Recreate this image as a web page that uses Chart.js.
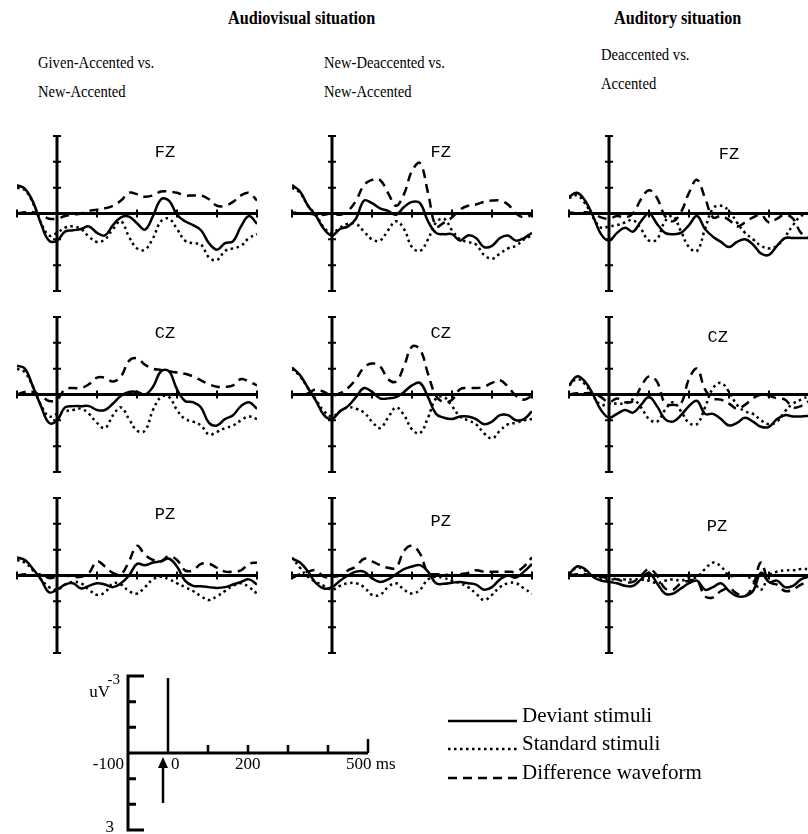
<!DOCTYPE html>
<html>
<head>
<meta charset="utf-8">
<script src="https://cdn.jsdelivr.net/npm/chart.js@4.4.1/dist/chart.umd.min.js"></script>
<style>
  html, body { margin: 0; padding: 0; background: #fff; overflow: hidden; }
  #page { position: relative; width: 808px; height: 834px; }
  .panel { position: absolute; }
  .txt { position: absolute; font-family: "Liberation Serif", serif; font-size: 17px; color: #000; white-space: nowrap; line-height: 1; transform: scaleX(0.86); transform-origin: left top; }
  .head { font-weight: bold; font-size: 18px; transform: scaleX(0.9); }
</style>
</head>
<body>
<div id="page">
  <div class="txt head" style="left:228px; top:9px;">Audiovisual situation</div>
  <div class="txt head" style="left:614px; top:9px;">Auditory situation</div>
  <div class="txt" style="left:38px; top:54px;">Given-Accented vs.</div>
  <div class="txt" style="left:38px; top:83px;">New-Accented</div>
  <div class="txt" style="left:324px; top:54px;">New-Deaccented vs.</div>
  <div class="txt" style="left:324px; top:83px;">New-Accented</div>
  <div class="txt" style="left:601px; top:46px;">Deaccented vs.</div>
  <div class="txt" style="left:601px; top:75px;">Accented</div>

  <canvas id="p11" class="panel" width="250" height="165" style="left:12px; top:131px;"></canvas>
  <canvas id="p12" class="panel" width="250" height="165" style="left:287px; top:131px;"></canvas>
  <canvas id="p13" class="panel" width="250" height="165" style="left:564px; top:131px;"></canvas>
  <canvas id="p21" class="panel" width="250" height="165" style="left:12px; top:312px;"></canvas>
  <canvas id="p22" class="panel" width="250" height="165" style="left:287px; top:312px;"></canvas>
  <canvas id="p23" class="panel" width="250" height="165" style="left:564px; top:312px;"></canvas>
  <canvas id="p31" class="panel" width="250" height="165" style="left:12px; top:493px;"></canvas>
  <canvas id="p32" class="panel" width="250" height="165" style="left:287px; top:493px;"></canvas>
  <canvas id="p33" class="panel" width="250" height="165" style="left:564px; top:493px;"></canvas>

  <canvas id="scaleBar" class="panel" width="808" height="184" style="left:0px; top:650px;"></canvas>
</div>
<script>
// time points, ms
const times = [-100, -80, -60, -40, -20, 0, 20, 40, 60, 80, 100, 120, 140, 160, 180, 200,
  220, 240, 260, 280, 300, 320, 340, 360, 380, 400, 420, 440, 460, 480, 500];
const xTicks = [-100, 0, 100, 200, 300, 400, 500];
const yTicks = [-3, -2, -1, 0, 1, 2, 3];

// uV, negative up
// Given-Accented vs. New-Accented
const givenFzDev = [-1.1, -0.95, -0.45, 0.4, 1.05, 1.05, 0.7, 0.65, 0.6, 0.5, 0.75, 0.85, 0.45, 0.15, 0.12, 0.38, 0.62, 0.1, -0.55, -0.5, 0.05, 0.3, 0.45, 0.65, 1.15, 1.4, 1.15, 1.08, 0.5, 0.1, 0.4];
const givenFzStd = [-1.0, -0.9, -0.4, 0.35, 0.85, 0.75, 0.55, 0.5, 0.6, 0.9, 1.1, 1.0, 0.6, 0.3, 0.9, 1.35, 1.4, 0.95, 0.3, 0.2, 0.6, 1.05, 1.15, 1.2, 1.7, 1.8, 1.45, 1.35, 1.25, 0.95, 0.8];
const givenFzDiff = [0.0, -0.05, -0.05, 0.05, 0.2, 0.2, 0.1, 0.05, 0.0, -0.1, -0.15, -0.2, -0.3, -0.5, -0.8, -0.75, -0.65, -0.7, -0.85, -0.85, -0.8, -0.7, -0.7, -0.7, -0.55, -0.3, -0.3, -0.45, -0.7, -0.8, -0.5];
const givenCzDev = [-1.12, -1.0, -0.3, 0.45, 1.1, 1.0, 0.5, 0.45, 0.45, 0.45, 0.6, 0.6, 0.35, 0.05, -0.1, -0.1, 0.0, -0.3, -0.9, -0.9, -0.2, 0.25, 0.3, 0.5, 1.1, 1.2, 0.95, 0.8, 0.45, 0.3, 0.55];
const givenCzStd = [-1.0, -0.85, -0.3, 0.4, 0.85, 0.75, 0.65, 0.6, 0.55, 0.75, 1.1, 1.3, 0.8, 0.5, 0.95, 1.4, 1.4, 0.6, 0.1, 0.1, 0.6, 0.95, 1.05, 1.2, 1.55, 1.45, 1.3, 1.2, 1.0, 0.85, 0.95];
const givenCzDiff = [0.0, -0.1, -0.1, 0.05, 0.25, 0.2, -0.2, -0.25, -0.25, -0.4, -0.65, -0.65, -0.5, -0.7, -1.3, -1.4, -1.15, -1.0, -0.95, -0.9, -0.85, -0.8, -0.7, -0.55, -0.4, -0.3, -0.3, -0.35, -0.6, -0.5, -0.35];
const givenPzDev = [-0.7, -0.6, -0.25, 0.15, 0.65, 0.55, 0.35, 0.3, 0.5, 0.4, 0.3, 0.35, 0.45, 0.3, 0.0, -0.45, -0.4, -0.5, -0.55, -0.65, -0.35, 0.2, 0.4, 0.42, 0.45, 0.48, 0.45, 0.35, 0.25, 0.15, 0.35];
const givenPzStd = [-0.6, -0.5, -0.2, 0.15, 0.45, 0.55, 0.35, 0.25, 0.3, 0.55, 0.75, 0.65, 0.3, 0.35, 0.6, 0.7, 0.45, 0.15, 0.05, 0.15, 0.3, 0.45, 0.6, 0.8, 0.95, 0.8, 0.6, 0.4, 0.3, 0.45, 0.7];
const givenPzDiff = [0.0, -0.05, 0.0, -0.05, 0.1, 0.05, 0.0, 0.05, 0.05, -0.1, -0.55, -0.35, -0.1, -0.05, -0.55, -1.15, -0.8, -0.6, -0.55, -0.75, -0.6, -0.2, -0.2, -0.45, -0.45, -0.3, -0.15, -0.15, -0.2, -0.45, -0.5];

// New-Deaccented vs. New-Accented
const newDeFzDev = [-1.1, -0.85, -0.3, 0.1, 0.6, 0.85, 0.6, 0.5, 0.2, -0.5, -0.4, -0.2, -0.1, 0.05, -0.25, -0.45, -0.4, 0.3, 0.75, 0.8, 0.8, 1.05, 0.85, 0.95, 1.3, 1.25, 0.95, 0.85, 1.05, 0.95, 0.75];
const newDeFzStd = [-1.0, -0.8, -0.3, 0.05, 0.55, 0.75, 0.55, 0.4, 0.4, 0.7, 1.0, 1.05, 0.65, 0.3, 0.6, 1.3, 1.45, 1.0, 0.35, 0.2, 0.65, 1.0, 1.1, 1.2, 1.6, 1.75, 1.55, 1.35, 1.25, 1.0, 0.85];
const newDeFzDiff = [-0.05, 0.0, 0.0, 0.05, 0.05, 0.0, 0.05, -0.1, -0.5, -1.1, -1.3, -1.3, -0.8, -0.3, -0.75, -1.65, -1.95, -0.8, 0.5, 0.35, 0.15, -0.15, -0.3, -0.35, -0.45, -0.5, -0.5, -0.35, 0.0, 0.15, 0.05];
const newDeCzDev = [-1.05, -0.75, -0.25, 0.25, 0.8, 0.95, 0.65, 0.45, 0.1, -0.25, -0.1, 0.15, 0.15, 0.1, -0.1, -0.35, -0.45, 0.1, 0.75, 0.9, 0.95, 0.85, 0.85, 0.95, 1.15, 1.05, 0.8, 0.8, 1.0, 0.95, 0.65];
const newDeCzStd = [-1.0, -0.7, -0.25, 0.2, 0.65, 0.85, 0.65, 0.5, 0.55, 0.7, 1.05, 1.3, 0.9, 0.5, 0.8, 1.35, 1.5, 0.9, 0.15, 0.1, 0.45, 0.85, 1.0, 1.15, 1.5, 1.7, 1.4, 1.15, 1.1, 1.0, 0.95];
const newDeCzDiff = [0.0, 0.0, -0.05, -0.2, -0.1, 0.05, -0.05, -0.25, -0.6, -1.05, -1.2, -1.1, -0.6, -0.5, -1.1, -1.85, -1.75, -0.8, 0.05, 0.3, 0.2, -0.2, -0.25, -0.25, -0.3, -0.45, -0.55, -0.3, 0.05, 0.2, 0.05];
const newDePzDev = [-0.65, -0.5, -0.15, 0.3, 0.5, 0.45, 0.2, 0.0, -0.15, -0.15, 0.1, 0.25, 0.15, -0.05, -0.25, -0.35, -0.4, -0.15, 0.3, 0.32, 0.28, 0.25, 0.3, 0.35, 0.55, 0.45, 0.15, 0.0, 0.08, -0.15, -0.45];
const newDePzStd = [-0.7, -0.3, 0.05, 0.25, 0.4, 0.55, 0.4, 0.3, 0.3, 0.45, 0.75, 0.75, 0.45, 0.3, 0.55, 0.7, 0.55, 0.15, 0.05, 0.1, 0.2, 0.3, 0.45, 0.7, 0.95, 0.75, 0.45, 0.3, 0.3, 0.5, 0.7];
const newDePzDiff = [0.1, -0.05, -0.15, -0.2, 0.05, 0.05, 0.0, -0.2, -0.35, -0.65, -0.55, -0.4, -0.3, -0.3, -0.95, -1.15, -0.85, -0.1, -0.05, -0.05, 0.0, -0.05, -0.1, -0.2, -0.15, -0.15, -0.15, -0.15, -0.15, -0.35, -0.7];

// Auditory: Deaccented vs. Accented
const audFzDev = [-0.65, -0.8, -0.5, 0.1, 0.8, 1.05, 0.75, 0.55, 0.7, 0.3, 0.0, 0.4, 0.75, 0.8, 0.75, 0.45, 0.1, 0.6, 0.9, 1.1, 1.3, 1.1, 1.0, 1.2, 1.55, 1.6, 1.25, 0.95, 0.95, 0.95, 0.95];
const audFzStd = [-0.6, -0.7, -0.4, 0.15, 0.55, 0.5, 0.45, 0.35, 0.25, 0.6, 1.05, 1.0, 0.3, 0.1, 0.7, 1.3, 1.45, 0.6, -0.2, -0.3, -0.1, 0.35, 0.75, 1.0, 1.25, 1.35, 1.25, 0.9, 0.45, 0.1, 0.0];
const audFzDiff = [-0.05, 0.0, -0.05, 0.0, 0.15, 0.2, 0.1, 0.15, 0.0, -0.55, -0.9, -0.6, 0.1, 0.3, -0.05, -0.8, -1.3, -0.6, 0.15, 0.1, 0.25, 0.5, 0.35, 0.15, 0.05, 0.35, 0.2, 0.05, 0.2, 0.75, 0.9];
const audCzDev = [-0.35, -0.7, -0.5, 0.0, 0.6, 0.9, 0.75, 0.6, 0.7, 0.4, 0.1, 0.45, 0.95, 1.05, 0.8, 0.45, 0.25, 0.75, 0.75, 0.95, 1.2, 1.1, 0.9, 1.05, 1.25, 1.25, 0.95, 0.8, 0.85, 0.85, 0.82];
const audCzStd = [-0.35, -0.6, -0.4, 0.05, 0.4, 0.35, 0.35, 0.35, 0.2, 0.5, 0.95, 1.05, 0.6, 0.3, 0.65, 1.1, 1.15, 0.5, -0.25, -0.45, -0.1, 0.4, 0.65, 0.75, 1.0, 1.15, 1.05, 0.65, 0.35, 0.2, 0.05];
const audCzDiff = [0.0, -0.05, -0.05, -0.05, 0.1, 0.3, 0.15, 0.3, 0.25, -0.3, -0.7, -0.5, 0.35, 0.4, 0.35, -0.6, -1.0, -0.2, 0.15, 0.2, 0.35, 0.55, 0.4, 0.15, 0.0, 0.05, 0.15, 0.2, 0.5, 0.45, 0.25];
const audPzDev = [-0.05, -0.35, -0.25, 0.05, 0.2, 0.25, 0.3, 0.4, 0.4, 0.15, -0.1, 0.3, 0.7, 0.7, 0.5, 0.3, 0.2, 0.55, 0.45, 0.3, 0.6, 0.8, 0.8, 0.6, -0.1, 0.25, 0.2, 0.45, 0.4, 0.15, 0.05];
const audPzStd = [-0.05, -0.3, -0.2, 0.05, 0.15, 0.15, 0.15, 0.15, 0.15, 0.15, 0.2, 0.3, 0.2, 0.15, 0.2, 0.1, 0.05, -0.25, -0.5, -0.35, 0.0, 0.0, 0.0, 0.2, 0.55, 0.0, -0.15, -0.2, -0.2, -0.25, -0.25];
const audPzDiff = [0.0, -0.05, -0.05, 0.0, 0.05, 0.1, 0.15, 0.25, 0.25, 0.0, -0.25, 0.0, 0.5, 0.55, 0.3, 0.2, 0.2, 0.8, 0.85, 0.6, 0.5, 0.7, 0.8, 0.4, -0.5, 0.25, 0.35, 0.6, 0.55, 0.35, 0.3];

const legendLabels = ["Deviant stimuli", "Standard stimuli", "Difference waveform"];

const solidStyle = { borderColor: "#000", borderWidth: 2.5, borderDash: [] };
const dotStyle = { borderColor: "#000", borderWidth: 2.5, borderDash: [2.5, 3.5] };
const dashStyle = { borderColor: "#000", borderWidth: 2.5, borderDash: [9, 6] };

function pts(vals) {
  return vals.map((v, i) => ({ x: times[i], y: v }));
}

// axes crossing at 0 with little cross ticks
const erpAxes = {
  id: "erpAxes",
  beforeDatasetsDraw(chart) {
    const { ctx, scales: { x, y } } = chart;
    const x0 = x.getPixelForValue(0);
    const y0 = y.getPixelForValue(0);
    ctx.save();
    ctx.strokeStyle = "#000";
    ctx.lineWidth = 3;
    ctx.beginPath();
    ctx.moveTo(x.getPixelForValue(xTicks[0]), y0);
    ctx.lineTo(x.getPixelForValue(xTicks[xTicks.length - 1]), y0);
    ctx.moveTo(x0, y.getPixelForValue(yTicks[0]));
    ctx.lineTo(x0, y.getPixelForValue(yTicks[yTicks.length - 1]));
    ctx.stroke();
    ctx.lineWidth = 2;
    ctx.beginPath();
    xTicks.forEach(t => {
      const px = x.getPixelForValue(t);
      ctx.moveTo(px, y0 - 4);
      ctx.lineTo(px, y0 + 4);
    });
    yTicks.forEach(v => {
      const py = y.getPixelForValue(v);
      ctx.moveTo(x0 - 4, py);
      ctx.lineTo(x0 + 4, py);
    });
    ctx.stroke();
    ctx.restore();
  },
  afterDraw(chart, args, opts) {
    if (!opts.text) return;
    const { ctx, scales: { x, y } } = chart;
    ctx.save();
    ctx.fillStyle = "#000";
    ctx.font = '17px "Liberation Mono", monospace';
    ctx.textAlign = "center";
    ctx.textBaseline = "middle";
    ctx.fillText(opts.text, x.getPixelForValue(opts.at[0]), y.getPixelForValue(opts.at[1]));
    ctx.restore();
  },
};

function makePanel(id, label, labelAt, dev, std, diff) {
  return new Chart(document.getElementById(id).getContext("2d"), {
    type: "line",
    data: {
      datasets: [
        { label: legendLabels[0], data: pts(dev), ...solidStyle },
        { label: legendLabels[1], data: pts(std), ...dotStyle },
        { label: legendLabels[2], data: pts(diff), ...dashStyle },
      ],
    },
    options: {
      responsive: false,
      animation: false,
      layout: { padding: 5 },
      elements: { point: { radius: 0 }, line: { tension: 0.4 } },
      scales: {
        x: { type: "linear", min: -100, max: 500, display: false },
        y: { min: -3, max: 3, reverse: true, display: false },
      },
      plugins: {
        legend: { display: false },
        tooltip: { enabled: false },
        erpAxes: { text: label, at: labelAt },
      },
    },
    plugins: [erpAxes],
  });
}

makePanel("p11", "FZ", [270, -2.35], givenFzDev, givenFzStd, givenFzDiff);
makePanel("p21", "CZ", [270, -2.35], givenCzDev, givenCzStd, givenCzDiff);
makePanel("p31", "PZ", [270, -2.35], givenPzDev, givenPzStd, givenPzDiff);
makePanel("p12", "FZ", [272, -2.35], newDeFzDev, newDeFzStd, newDeFzDiff);
makePanel("p22", "CZ", [272, -2.35], newDeCzDev, newDeCzStd, newDeCzDiff);
makePanel("p32", "PZ", [272, -2.1], newDePzDev, newDePzStd, newDePzDiff);
makePanel("p13", "FZ", [300, -2.3], audFzDev, audFzStd, audFzDiff);
makePanel("p23", "CZ", [272, -2.2], audCzDev, audCzStd, audCzDiff);
makePanel("p33", "PZ", [270, -1.9], audPzDev, audPzStd, audPzDiff);

// calibration bar + legend
const scaleXTicks = [100, 200, 300, 400, 500];
const scaleXLabels = [[-100, "-100"], [0, "0"], [200, "200"], [500, "500 ms"]];

const scaleBarPlugin = {
  id: "scaleBar",
  afterDraw(chart) {
    const { ctx, scales: { x, y } } = chart;
    const xl = x.getPixelForValue(-100);
    const x0 = x.getPixelForValue(0);
    const y0 = y.getPixelForValue(0);
    const yTop = y.getPixelForValue(-3);
    const yBot = y.getPixelForValue(3);
    ctx.save();
    ctx.strokeStyle = "#000";
    ctx.fillStyle = "#000";
    ctx.lineWidth = 3;
    ctx.beginPath();
    // bracket
    ctx.moveTo(xl + 16, yTop);
    ctx.lineTo(xl, yTop);
    ctx.lineTo(xl, yBot);
    ctx.lineTo(xl + 16, yBot);
    [-2, -1, 1, 2].forEach(v => {
      const py = y.getPixelForValue(v);
      ctx.moveTo(xl, py);
      ctx.lineTo(xl + 8, py);
    });
    // time axis
    ctx.moveTo(xl, y0);
    ctx.lineTo(x.getPixelForValue(500), y0);
    ctx.stroke();
    ctx.lineWidth = 2.5;
    ctx.beginPath();
    ctx.moveTo(x0, yTop + 2);
    ctx.lineTo(x0, y0);
    scaleXTicks.forEach(t => {
      const px = x.getPixelForValue(t);
      ctx.moveTo(px, y0);
      ctx.lineTo(px, y0 - (t === 500 ? 14 : 8));
    });
    // stimulus onset arrow
    const xa = x0 - 5;
    ctx.moveTo(xa, y0 + 50);
    ctx.lineTo(xa, y0 + 12);
    ctx.stroke();
    ctx.beginPath();
    ctx.moveTo(xa, y0 + 4);
    ctx.lineTo(xa - 5, y0 + 15);
    ctx.lineTo(xa + 5, y0 + 15);
    ctx.closePath();
    ctx.fill();

    ctx.font = '17px "Liberation Serif", serif';
    ctx.textBaseline = "alphabetic";
    ctx.textAlign = "right";
    ctx.fillText("-100", xl - 4, y0 + 16);
    ctx.fillText("uV", xl - 18, yTop + 21);
    ctx.fillText("3", xl - 14, yBot + 2);
    ctx.font = '15px "Liberation Serif", serif';
    ctx.fillText("-3", xl - 8, yTop + 8);
    ctx.font = '17px "Liberation Serif", serif';
    ctx.textAlign = "left";
    scaleXLabels.slice(1).forEach(([t, s]) => {
      let px = x.getPixelForValue(t);
      if (t === 0) px += 3;
      else if (t === 500) px -= 22;
      else px -= 13;
      ctx.fillText(s, px, y0 + 16);
    });

    // legend
    const items = chart.data.datasets;
    const rows = [71, 99, 128];
    ctx.font = '21px "Liberation Serif", serif';
    items.forEach((ds, i) => {
      ctx.save();
      ctx.lineWidth = ds.borderWidth;
      ctx.setLineDash(ds.borderDash);
      ctx.beginPath();
      ctx.moveTo(448, rows[i]);
      ctx.lineTo(517, rows[i]);
      ctx.stroke();
      ctx.restore();
      ctx.fillText(ds.label, 522, rows[i] + 1);
    });
    ctx.restore();
  },
};

new Chart(document.getElementById("scaleBar").getContext("2d"), {
  type: "line",
  data: {
    datasets: [
      { label: legendLabels[0], data: [], ...solidStyle },
      { label: legendLabels[1], data: [], ...dotStyle },
      { label: legendLabels[2], data: [], ...dashStyle },
    ],
  },
  options: {
    responsive: false,
    animation: false,
    layout: { padding: { left: 128, right: 440, top: 26, bottom: 4 } },
    scales: {
      x: { type: "linear", min: -100, max: 500, display: false },
      y: { min: -3, max: 3, reverse: true, display: false },
    },
    plugins: { legend: { display: false }, tooltip: { enabled: false } },
  },
  plugins: [scaleBarPlugin],
});
</script>
</body>
</html>
